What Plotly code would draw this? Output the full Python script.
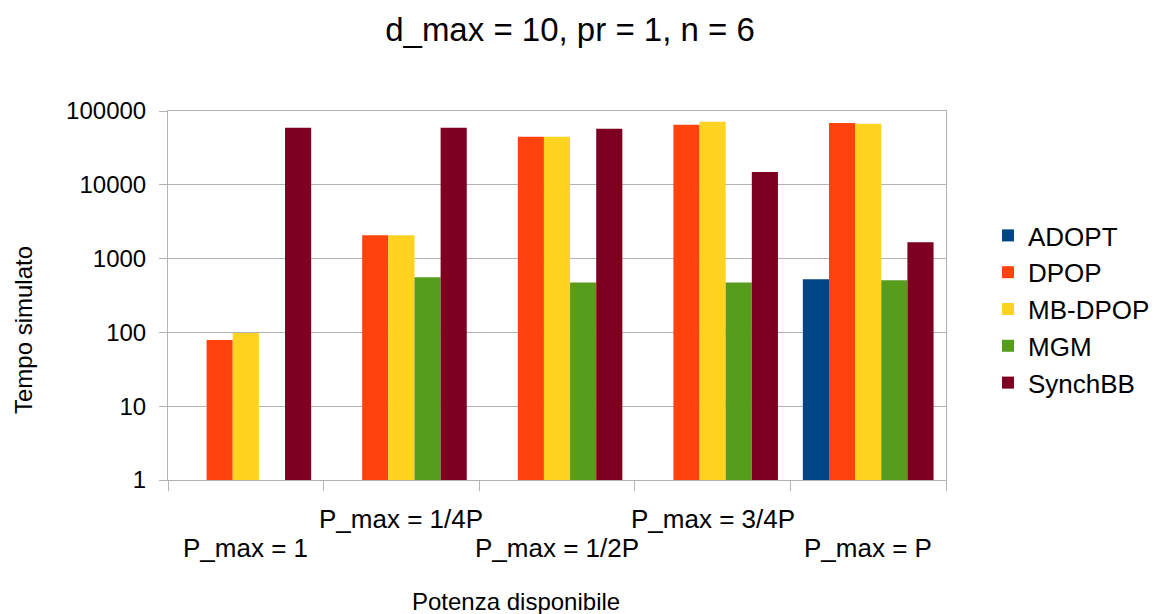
import plotly.graph_objects as go

# Categories (available power) and simulated time per algorithm
categories = ["P_max = 1", "P_max = 1/4P", "P_max = 1/2P", "P_max = 3/4P", "P_max = P"]
adopt = [None, None, None, None, 523]
dpop = [79, 2080, 44700, 65200, 69000]
mb_dpop = [98, 2080, 44700, 71400, 67100]
mgm = [None, 557, 476, 476, 507]
synchbb = [59300, 59300, 57500, 14900, 1670]

series_names = ["ADOPT", "DPOP", "MB-DPOP", "MGM", "SynchBB"]
series_values = [adopt, dpop, mb_dpop, mgm, synchbb]
series_colors = ["#004586", "#ff420e", "#ffd320", "#579d1c", "#7e0021"]

y_tickvals = [1, 10, 100, 1000, 10000, 100000]
y_ticktext = ["1", "10", "100", "1000", "10000", "100000"]

FONT = "Liberation Sans, Arial, sans-serif"
GRID = "#b3b3b3"

# plot-area geometry in pixels
W, H = 1158, 614
L, R, T, B = 168, 946, 111, 480
PW, PH = R - L, B - T

fig = go.Figure()
for name, vals, color in zip(series_names, series_values, series_colors):
    fig.add_trace(go.Bar(
        name=name, x=categories, y=vals,
        marker=dict(color=color, line=dict(width=0)),
    ))

# Staggered category labels: even-indexed lower, odd-indexed upper
annotations = []
for i, cat in enumerate(categories):
    annotations.append(dict(
        x=cat, xref="x", y=0, yref="paper",
        text=cat, showarrow=False, yanchor="middle", xanchor="center",
        yshift=-39 if i % 2 else -68,
        font=dict(family=FONT, size=26, color="black"),
    ))

annotations.append(dict(
    x=(516 - L) / PW, xref="paper", y=(B - 601) / PH, yref="paper",
    text="Potenza disponibile", showarrow=False,
    xanchor="center", yanchor="middle",
    font=dict(family=FONT, size=24, color="black"),
))
annotations.append(dict(
    x=(23 - L) / PW, xref="paper", y=(B - 330) / PH, yref="paper",
    text="Tempo simulato", showarrow=False, textangle=-90,
    xanchor="center", yanchor="middle",
    font=dict(family=FONT, size=24, color="black"),
))

fig.update_layout(
    width=W, height=H,
    margin=dict(l=L, r=W - R, t=T, b=H - B, autoexpand=False),
    paper_bgcolor="white", plot_bgcolor="white",
    font=dict(family=FONT, size=24, color="black"),
    title=dict(
        text="d_max = 10, pr = 1, n = 6",
        x=570 / W, xanchor="center", y=1 - 29 / H, yanchor="middle",
        font=dict(family=FONT, size=33, color="black"),
    ),
    barmode="group", bargap=0.16, bargroupgap=0,
    showlegend=True,
    legend=dict(
        x=(988 - L) / PW, xanchor="left", y=(B - 309.5) / PH, yanchor="middle",
        font=dict(family=FONT, size=26, color="black"),
        bgcolor="rgba(0,0,0,0)", borderwidth=0,
        tracegroupgap=0, itemsizing="constant",
    ),
    annotations=annotations,
)

fig.update_xaxes(
    type="category", showticklabels=False,
    ticks="outside", tickson="boundaries", ticklen=10, tickcolor=GRID,
    showline=True, linecolor=GRID, linewidth=1, mirror=True,
    showgrid=False,
)
fig.update_yaxes(
    type="log", range=[0, 5],
    tickvals=y_tickvals, ticktext=y_ticktext,
    ticks="outside", ticklen=8, tickcolor=GRID,
    ticklabelstandoff=8,
    showgrid=True, gridcolor=GRID, gridwidth=1,
    showline=True, linecolor=GRID, linewidth=1, mirror=True,
    tickfont=dict(family=FONT, size=24, color="black"),
    zeroline=False,
)

fig.write_html("out.html")
